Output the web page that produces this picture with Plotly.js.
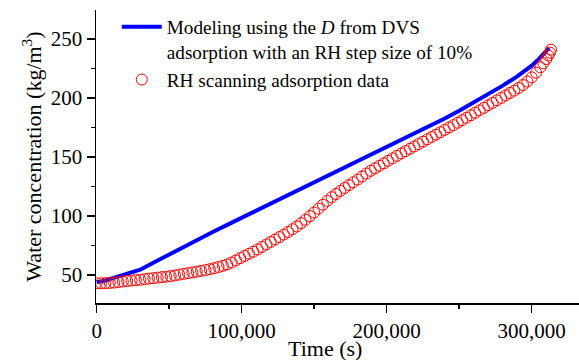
<!DOCTYPE html>
<html>
<head>
<meta charset="utf-8">
<script src="https://cdn.plot.ly/plotly-3.0.1.min.js"></script>
<style>html,body{margin:0;padding:0;background:#fff;}#chart{width:579px;height:360px;}</style>
</head>
<body>
<div id="chart"></div>
<script>
// Modeling curve (time in s, water concentration kg/m3)
var modelTime = [0, 5000, 10000, 15000, 20000, 25000, 30000, 40000, 50000, 60000, 70000, 80000, 90000, 100000, 110000, 120000, 130000, 140000, 150000, 160000, 170000, 180000, 190000, 200000, 210000, 220000, 230000, 240000, 250000, 260000, 270000, 280000, 290000, 300000, 305000, 310000, 312000];
var modelConc = [44, 45, 47, 49, 51, 52.5, 54.5, 61, 67.5, 74, 80.5, 86.5, 92.5, 98.5, 105, 111, 117, 123, 129, 135, 140.7, 146.6, 152.5, 158.4, 164.2, 170.1, 176.2, 182.6, 189.2, 196.1, 203.2, 210.5, 218.4, 227.4, 233.2, 239.5, 242.5];

// RH scanning adsorption data
var scanTime = [0, 3000, 6000, 9000, 12000, 15000, 18000, 21000, 24000, 27000, 30000, 33000, 36000, 39000, 42000, 45000, 48000, 51000, 54000, 57000, 60000, 63000, 66000, 69000, 72000, 75000, 78000, 81000, 84000, 87000, 90000, 93000, 96000, 99000, 102000, 105000, 108000, 111000, 114000, 117000, 120000, 123000, 126000, 129000, 132000, 135000, 138000, 141000, 144000, 147000, 150000, 153000, 156000, 159000, 162000, 165000, 168000, 171000, 174000, 177000, 180000, 183000, 186000, 189000, 192000, 195000, 198000, 201000, 204000, 207000, 210000, 213000, 216000, 219000, 222000, 225000, 228000, 231000, 234000, 237000, 240000, 243000, 246000, 249000, 252000, 255000, 258000, 261000, 264000, 267000, 270000, 273000, 276000, 279000, 282000, 285000, 288000, 291000, 294000, 297000, 300000, 303000, 306000, 308000, 310000, 311500, 312500, 313300];
var scanConc = [43.0, 43.0, 43.1, 43.3, 43.6, 44.0, 44.5, 45.0, 45.3, 45.7, 46.0, 46.5, 47.0, 47.4, 47.8, 48.2, 48.6, 49.1, 49.7, 50.4, 51.0, 51.6, 52.2, 52.8, 53.5, 54.2, 54.9, 55.8, 56.8, 57.8, 59.0, 60.6, 62.4, 64.3, 66.2, 68.0, 69.8, 71.7, 73.8, 75.9, 78.0, 80.1, 82.2, 84.3, 86.5, 88.8, 91.2, 94.0, 96.9, 99.9, 103.0, 106.3, 109.6, 112.9, 115.9, 118.7, 121.3, 123.8, 126.2, 128.6, 131.0, 133.5, 136.0, 138.3, 140.5, 142.6, 144.7, 146.8, 148.9, 151.0, 153.0, 155.0, 157.0, 159.0, 161.0, 163.0, 165.0, 167.0, 169.0, 171.0, 173.0, 175.0, 177.0, 179.1, 181.2, 183.3, 185.4, 187.5, 189.6, 191.7, 193.8, 195.9, 198.0, 200.1, 202.2, 204.3, 206.3, 208.5, 211.0, 214.0, 217.5, 221.5, 226.0, 229.5, 233.0, 236.0, 238.5, 241.0];

var xTickVals = [0, 100000, 200000, 300000];
var xTickText = ['0', '100,000', '200,000', '300,000'];
var yTickVals = [50, 100, 150, 200, 250];

var serif = '"Liberation Serif", "Times New Roman", serif';

var traces = [
  {
    x: modelTime, y: modelConc, type: 'scatter', mode: 'lines',
    name: 'Modeling using the <i>D</i> from DVS<br>adsorption with an RH step size of 10%',
    line: {color: '#0000ff', width: 4}
  },
  {
    x: scanTime, y: scanConc, type: 'scatter', mode: 'markers',
    name: 'RH scanning adsorption data',
    marker: {symbol: 'circle-open', color: '#ff0000', size: 11, line: {width: 1, color: '#ff0000'}}
  }
];

var layout = {
  width: 579, height: 360,
  margin: {l: 96, r: 0, t: 10, b: 57},
  paper_bgcolor: '#ffffff', plot_bgcolor: '#ffffff',
  font: {family: serif, color: '#000000'},
  showlegend: true,
  legend: {
    x: 0.043, y: 1.008, xanchor: 'left', yanchor: 'top',
    bgcolor: 'rgba(0,0,0,0)', borderwidth: 0,
    font: {family: serif, size: 19.2, color: '#000'},
    valign: 'top', tracegroupgap: 0, itemwidth: 40
  },
  xaxis: {
    range: [-500, 332600],
    showgrid: false, zeroline: false,
    showline: true, linecolor: '#000', linewidth: 1.5,
    ticks: 'outside', ticklen: 8, tickwidth: 1.5, tickcolor: '#000',
    tickmode: 'array', tickvals: xTickVals, ticktext: xTickText,
    tickfont: {family: serif, size: 21, color: '#000'},
    minor: {ticks: 'outside', ticklen: 4, tickwidth: 1.5, tickcolor: '#000', dtick: 50000, tick0: 0, showgrid: false}
  },
  yaxis: {
    range: [26.3, 274.6],
    showgrid: false, zeroline: false,
    showline: true, linecolor: '#000', linewidth: 1.5,
    ticks: 'outside', ticklen: 8, tickwidth: 1.5, tickcolor: '#000',
    tickmode: 'array', tickvals: yTickVals,
    tickfont: {family: serif, size: 21, color: '#000'},
    minor: {ticks: 'outside', ticklen: 4, tickwidth: 1.5, tickcolor: '#000', dtick: 25, tick0: 0, showgrid: false},
    title: {text: 'Water concentration (kg/m<sup>3</sup>)', font: {family: serif, size: 22, color: '#000'}, standoff: 3}
  },
  annotations: [
    {text: 'Time (s)', xref: 'paper', yref: 'paper', x: 0.474, y: 0, yshift: -45, xanchor: 'center', yanchor: 'middle', showarrow: false, font: {family: serif, size: 22, color: '#000'}}
  ]
};

Plotly.newPlot('chart', traces, layout, {displayModeBar: false, staticPlot: true});
</script>
</body>
</html>
